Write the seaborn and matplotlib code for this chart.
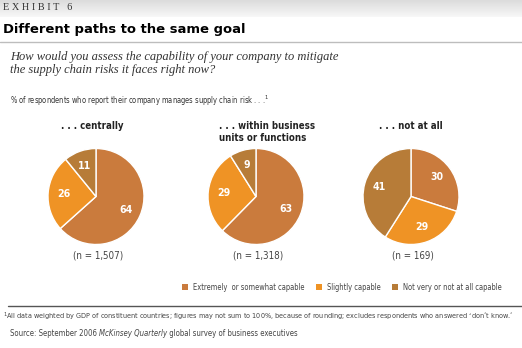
import matplotlib
matplotlib.use("Agg")
import matplotlib.pyplot as plt
import seaborn as sns
import numpy as np
from matplotlib import font_manager
from matplotlib.font_manager import FontProperties
from matplotlib.patches import Patch
from matplotlib.lines import Line2D

# ---- data ----
groups = [". . . centrally", ". . . within business\nunits or functions", ". . . not at all"]
sample_sizes = ["(n = 1,507)", "(n = 1,318)", "(n = 169)"]
categories = ["Extremely  or somewhat capable", "Slightly capable", "Not very or not at all capable"]
extremely = [64, 63, 30]
slightly = [26, 29, 29]
not_very = [11, 9, 41]
colors = ["#CA7B3D", "#EF9325", "#B77C38"]

sns.set_theme(style="white")
plt.rcParams["font.family"] = ["DejaVu Sans"]

paths = {f.fname.split("/")[-1]: f.fname for f in font_manager.fontManager.ttflist}
def font_file(name, fallback):
    return paths.get(name, paths.get(fallback, font_manager.findfont("DejaVu Sans")))
COND = font_file("DejaVuSansCondensed.ttf", "DejaVuSans.ttf")
COND_B = font_file("DejaVuSansCondensed-Bold.ttf", "DejaVuSans-Bold.ttf")
COND_I = font_file("DejaVuSansCondensed-Oblique.ttf", "DejaVuSans-Oblique.ttf")

def fp(path, size):
    return FontProperties(fname=path, size=size)

W, H = 522, 348
fig = plt.figure(figsize=(W / 100, H / 100), dpi=100)
fig.patch.set_facecolor("white")
fig.canvas.draw()
R_ = fig.canvas.get_renderer()

def fx(x): return x / W
def fy(y): return 1 - y / H

def fit(t, width):
    w = t.get_window_extent(renderer=R_).width
    t.set_fontsize(t.get_fontsize() * width / w)
    return t

def size_for(text, path, width, base=7.0):
    t = fig.text(0, 0, text, fontproperties=fp(path, base))
    w = t.get_window_extent(renderer=R_).width
    t.remove()
    return base * width / w

# header gradient band
bg = fig.add_axes([0, fy(17), 1, 17 / H])
grad = np.linspace(0.86, 0.97, 50).reshape(-1, 1)
bg.imshow(grad, aspect="auto", cmap="gray", vmin=0, vmax=1, extent=[0, 1, 0, 1])
bg.set_axis_off()

fit(fig.text(fx(3), fy(8), "E X H I B I T   6", family="Liberation Serif",
             fontsize=7, color="#333333", va="center", ha="left"), 69)
fit(fig.text(fx(3), fy(29), "Different paths to the same goal",
             fontweight="bold", fontsize=10.5, color="black", va="center", ha="left"), 244)
fig.add_artist(Line2D([0, 1], [fy(42), fy(42)], color="#BDBDBD", lw=1))

q = fig.text(fx(10), fy(63.5), "How would you assess the capability of your company to mitigate\n"
             "the supply chain risks it faces right now?", family="Liberation Serif",
             style="italic", fontsize=9.3, color="#333333", va="center", ha="left", linespacing=1.05)
fit(q, 330)

sub = "% of respondents who report their company manages supply chain risk . . .$^1$"
fig.text(fx(10), fy(101), sub, fontproperties=fp(COND, size_for(sub, COND, 262)),
         color="#333333", va="center", ha="left")

centers = [96, 256, 411]
cy, R = 196.5, 48
title_x = [92, 219, 411]
for i in range(3):
    ax = fig.add_axes([fx(centers[i] - R), fy(cy + R), 2 * R / W, 2 * R / H])
    vals = [extremely[i], slightly[i], not_very[i]]
    wedges, texts = ax.pie(vals, colors=colors, startangle=90, counterclock=False,
                           labels=[str(v) for v in vals], labeldistance=0.68,
                           wedgeprops=dict(edgecolor="white", linewidth=1),
                           textprops=dict(color="white", fontproperties=fp(COND_B, 7.6),
                                          ha="center", va="center"))
    ax.set_xlim(-1, 1)
    ax.set_ylim(-1, 1)
    ax.set_aspect("equal")
    ax.set_axis_off()
    ty = 126 if i != 1 else 132
    ha = "left" if i == 1 else "center"
    fig.text(fx(title_x[i]), fy(ty), groups[i], fontproperties=fp(COND_B, 6.9),
             color="#222222", ha=ha, va="center", multialignment="left", linespacing=1.25)
    fig.text(fx(centers[i] + 2), fy(256), sample_sizes[i], fontproperties=fp(COND, 7.0),
             color="#444444", ha="center", va="center")

leg_size = size_for(categories[2], COND, 100)
handles = [Patch(facecolor=c, edgecolor="none") for c in colors]
fig.legend(handles, categories, ncol=3, frameon=False, loc="center left",
           bbox_to_anchor=(fx(182), fy(287)), prop=fp(COND, leg_size), handlelength=0.85,
           handleheight=0.85, handletextpad=0.6, columnspacing=1.5, labelcolor="#444444",
           borderaxespad=0, borderpad=0)

fig.add_artist(Line2D([fx(8), 1], [fy(306), fy(306)], color="#555555", lw=1))

foot = ("$^1$All data weighted by GDP of constituent countries; figures may not sum to 100%, "
        "because of rounding; excludes respondents who answered \u2018don\u2019t know.\u2019")
fig.text(fx(3), fy(317), foot, fontproperties=fp(COND, size_for(foot, COND, 514)),
         color="#444444", ha="left", va="center")

# source line with italic segment
parts = [("Source: September 2006 ", COND), ("McKinsey Quarterly", COND_I),
         (" global survey of business executives", COND)]
src_size = size_for("".join(p for p, _ in parts), COND, 290)
x = fx(10)
for s, pth in parts:
    t = fig.text(x, fy(333), s, fontproperties=fp(pth, src_size), color="#444444",
                 ha="left", va="center")
    bb = t.get_window_extent(renderer=R_)
    x += bb.width / W

fig.savefig("out.png", dpi=100, facecolor="white")
